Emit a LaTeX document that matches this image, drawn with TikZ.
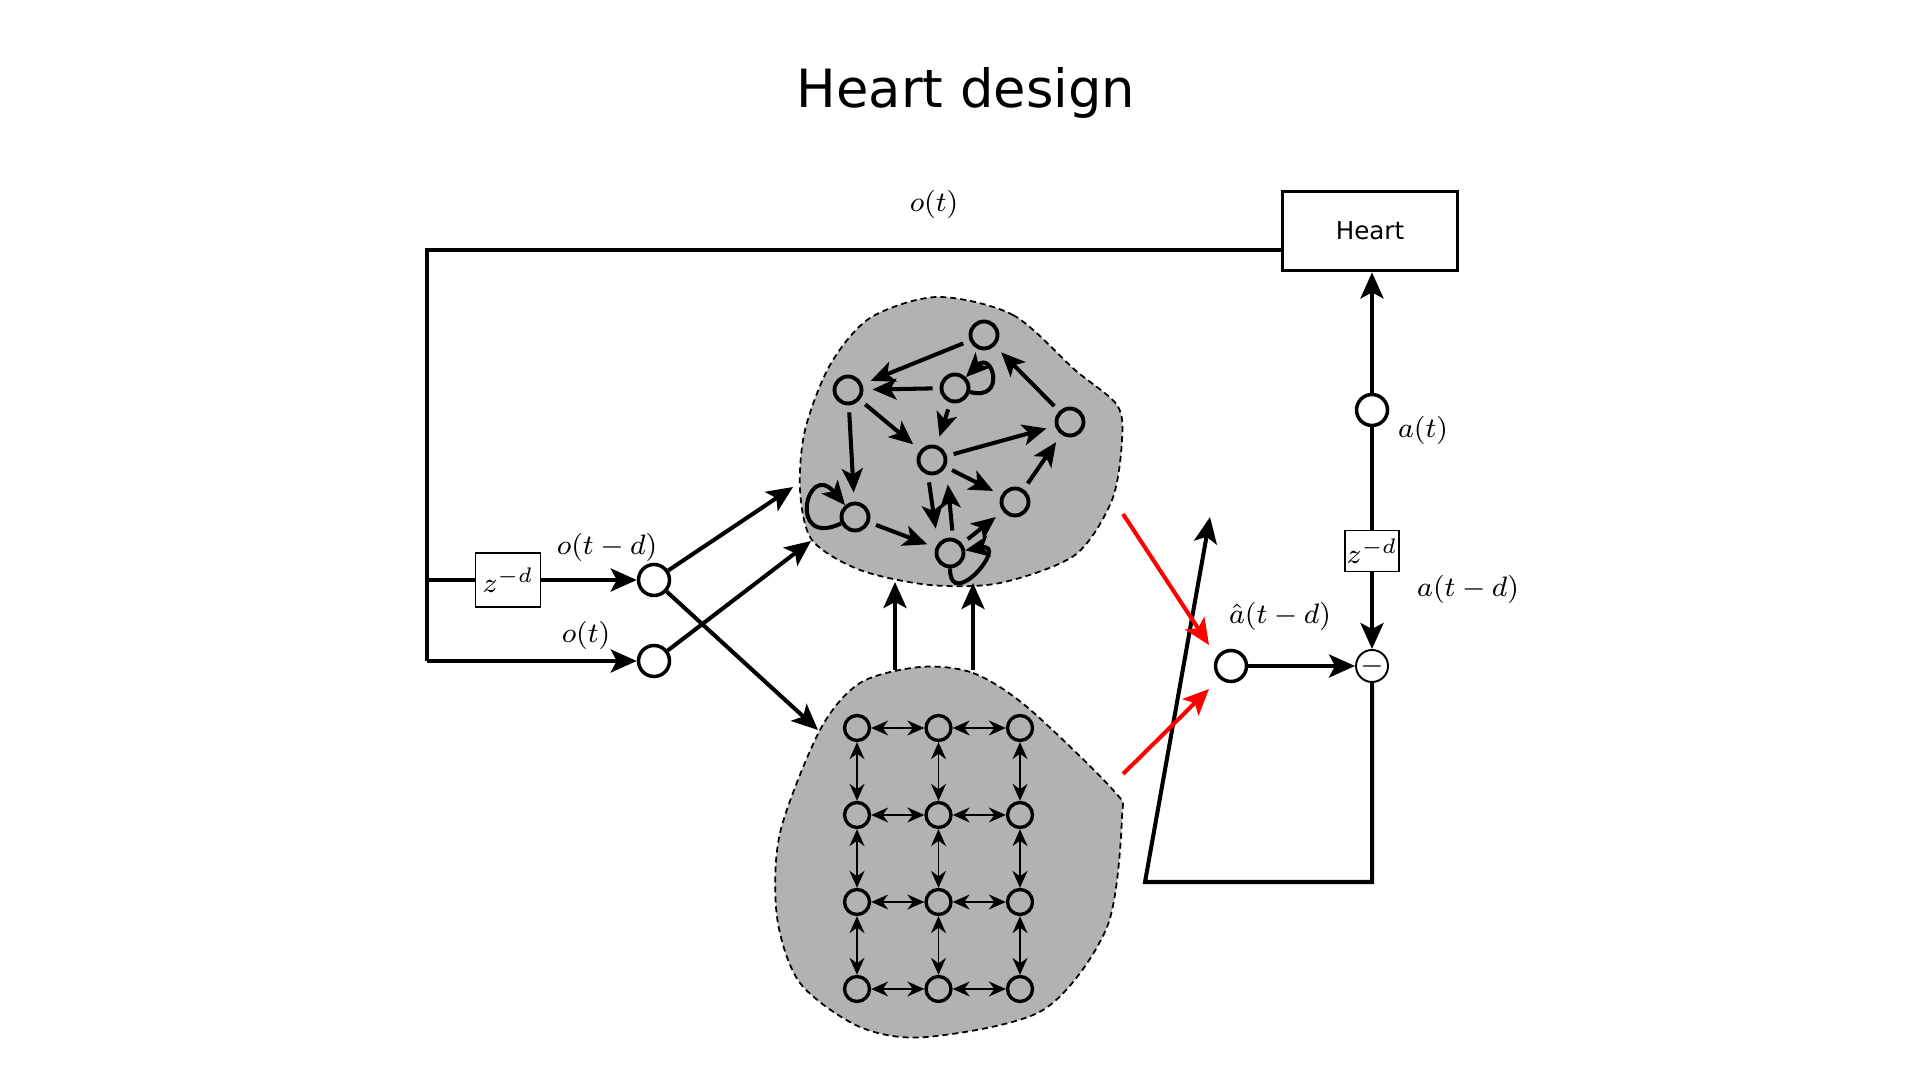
\documentclass[tikz,border=0pt]{standalone}
\usepackage{fontspec}
\newfontfamily\heartfont{DejaVu Sans}
\usetikzlibrary{arrows.meta,positioning}

\begin{document}
\begin{tikzpicture}[
    node distance=0.87cm and 0.815cm, on grid,
    onode/.style={draw, circle, line width=1pt, minimum size=0.31cm, inner sep=0pt},
    rnode/.style={draw, circle, line width=1.1pt, minimum size=0.27cm, inner sep=0pt},
    gnode/.style={draw, circle, line width=0.95pt, minimum size=0.25cm, inner sep=0pt},
    delay/.style={draw, line width=0.5pt, fill=white, inner sep=0pt, font=\fontsize{8.5}{10}\selectfont},
    heartbox/.style={draw, line width=1.1pt, minimum width=1.75cm, minimum height=0.79cm, font=\heartfont\fontsize{7}{8}\selectfont},
    minusnode/.style={draw, circle, line width=0.55pt, minimum size=0.32cm, inner sep=0pt, font=\fontsize{8.5}{8}\selectfont},
    lab/.style={font=\fontsize{8.5}{10}\selectfont},
    blob/.style={draw, dashed, dash pattern=on 0.06cm off 0.04cm, line width=0.5pt, fill=black!30},
    line/.style={line width=1.15pt},
    arrow/.style={-{Stealth[length=2.6mm, width=2.3mm, inset=0.6mm]}, line width=1.15pt},
    rarrow/.style={-{Stealth[length=2.4mm, width=2.1mm, inset=0.6mm]}, line width=1.15pt},
    redge/.style={rarrow, shorten >=0.09cm, shorten <=0.07cm},
    garrow/.style={{Stealth[length=1.7mm, width=1.5mm]}-{Stealth[length=1.7mm, width=1.5mm]}, line width=0.5pt}
  ]
  \useasboundingbox (0,0) rectangle (19.2,10.8);
  \node[font=\heartfont\fontsize{15}{18}\selectfont] (title) at (9.66,9.87) {Heart design};

  % reservoirs
  \draw[blob] plot[smooth cycle] coordinates {(9.37,7.83) (10.13,7.65) (10.75,7.10) (11.17,6.75) (11.22,6.40) (11.12,5.80) (10.75,5.25) (10.00,4.97) (9.30,4.95) (8.60,5.10) (8.12,5.40) (8.00,5.90) (8.05,6.50) (8.30,7.15) (8.70,7.62)};
  \draw[blob] plot[smooth cycle] coordinates {(9.20,4.13) (9.73,4.07) (10.27,3.73) (11.13,2.90) (11.22,2.63) (11.07,1.53) (10.43,0.70) (9.27,0.43) (8.60,0.53) (8.00,0.97) (7.77,1.63) (7.80,2.47) (8.20,3.50) (8.60,3.97)};

  % inputs
  \node[heartbox] (heart) at (13.70,8.49) {Heart};
  \coordinate (tl) at (4.27,8.30);
  \coordinate (ml) at (4.27,5.00);
  \coordinate (bl) at (4.27,4.19);
  \node[delay, minimum width=0.65cm, minimum height=0.54cm] (zo) at (5.08,5.00) {$z^{-d}$};
  \node[onode] (otd) at (6.54,5.00) {};
  \node[onode] (ot) at (6.54,4.19) {};
  \node[lab] (lo) at (9.34,8.76) {$o(t)$};
  \node[lab, above left=0.33cm and 0.47cm of otd] (lotd) {$o(t-d)$};
  \node[lab, above left=0.26cm and 0.68cm of ot] (lot) {$o(t)$};
  \draw[line] (heart.west |- tl) -- (tl) -- (bl);
  \draw[arrow] (bl) -- (ot);
  \draw[line] (ml) -- (zo);
  \draw[arrow] (zo) -- (otd);

  \coordinate (in1) at (7.93,5.93);
  \coordinate (in2) at (8.11,5.39);
  \coordinate (in3) at (8.18,3.50);
  \draw[arrow] (otd) -- (in1);
  \draw[arrow] (ot) -- (in2);
  \draw[arrow] (otd) -- (in3);

  % random reservoir
  \node[rnode] (r1) at (9.84,7.45) {};
  \node[rnode] (r2) at (8.48,6.90) {};
  \node[rnode] (r3) at (9.55,6.92) {};
  \node[rnode] (r4) at (10.70,6.58) {};
  \node[rnode] (r5) at (9.32,6.20) {};
  \node[rnode] (r6) at (8.55,5.63) {};
  \node[rnode] (r7) at (10.15,5.78) {};
  \node[rnode] (r8) at (9.50,5.27) {};
  \draw[redge] (r1) -- (r2);
  \draw[redge] (r3) -- (r2);
  \draw[redge] (r3) -- (r5);
  \draw[redge] (r2) -- (r5);
  \draw[redge] (r2) -- (r6);
  \draw[redge] (r6) -- (r8);
  \draw[redge] (r5) -- (r4);
  \draw[redge] (r5) -- (r7);
  \draw[redge] ([xshift=-0.04cm]r5.south) -- ([xshift=-0.13cm]r8.north);
  \draw[redge] ([xshift=0.03cm]r8.north) -- ([xshift=0.15cm]r5.south);
  \draw[redge] (r8) -- (r7);
  \draw[redge] (r7) -- (r4);
  \draw[redge] (r4) -- (r1);
  \draw[rarrow] (r3) to[out=-15, in=45, min distance=0.38cm] (r3);
  \draw[rarrow] (r6) to[out=205, in=130, min distance=0.6cm] (r6);
  \draw[rarrow] (r8) to[out=-90, in=10, min distance=0.45cm] (r8);

  % grid reservoir
  \node[gnode] (g11) at (8.57,3.52) {};
  \node[gnode, right=of g11] (g12) {};
  \node[gnode, right=of g12] (g13) {};
  \node[gnode, below=of g11] (g21) {};
  \node[gnode, right=of g21] (g22) {};
  \node[gnode, right=of g22] (g23) {};
  \node[gnode, below=of g21] (g31) {};
  \node[gnode, right=of g31] (g32) {};
  \node[gnode, right=of g32] (g33) {};
  \node[gnode, below=of g31] (g41) {};
  \node[gnode, right=of g41] (g42) {};
  \node[gnode, right=of g42] (g43) {};
  \draw[garrow] (g11) -- (g12);
  \draw[garrow] (g12) -- (g13);
  \draw[garrow] (g21) -- (g22);
  \draw[garrow] (g22) -- (g23);
  \draw[garrow] (g31) -- (g32);
  \draw[garrow] (g32) -- (g33);
  \draw[garrow] (g41) -- (g42);
  \draw[garrow] (g42) -- (g43);
  \draw[garrow] (g11) -- (g21);
  \draw[garrow] (g21) -- (g31);
  \draw[garrow] (g31) -- (g41);
  \draw[garrow] (g12) -- (g22);
  \draw[garrow] (g22) -- (g32);
  \draw[garrow] (g32) -- (g42);
  \draw[garrow] (g13) -- (g23);
  \draw[garrow] (g23) -- (g33);
  \draw[garrow] (g33) -- (g43);

  \coordinate (b1) at (8.95,4.10);
  \coordinate (t1) at (8.95,4.98);
  \coordinate (b2) at (9.73,4.10);
  \coordinate (t2) at (9.73,4.97);
  \draw[arrow] (b1) -- (t1);
  \draw[arrow] (b2) -- (t2);

  % readout and error
  \node[onode] (ahat) at (12.31,4.14) {};
  \node[minusnode] (diff) at (13.72,4.14) {$-$};
  \node[onode] (at) at (13.72,6.70) {};
  \node[delay, minimum width=0.54cm, minimum height=0.41cm] (za) at (13.72,5.29) {$z^{-d}$};
  \node[lab, above right=0.50cm and 0.49cm of ahat] (lah) {$\hat{a}(t-d)$};
  \node[lab, below right=0.20cm and 0.51cm of at] (la) {$a(t)$};
  \node[lab, below right=0.38cm and 0.96cm of za] (lad) {$a(t-d)$};
  \coordinate (fb) at (11.45,1.98);
  \coordinate (fe) at (12.10,5.63);
  \draw[arrow] (at) -- (at |- heart.south);
  \draw[line] (at) -- (za);
  \draw[arrow] (za) -- (diff);
  \draw[arrow] (ahat) -- (diff);
  \draw[arrow] (diff) -- (diff |- fb) -- (fb) -- (fe);

  \coordinate (u1) at (11.23,5.66);
  \coordinate (u2) at (12.09,4.35);
  \coordinate (v1) at (11.23,3.06);
  \coordinate (v2) at (12.09,3.91);
  \draw[arrow, red] (u1) -- (u2);
  \draw[arrow, red] (v1) -- (v2);
\end{tikzpicture}
\end{document}
